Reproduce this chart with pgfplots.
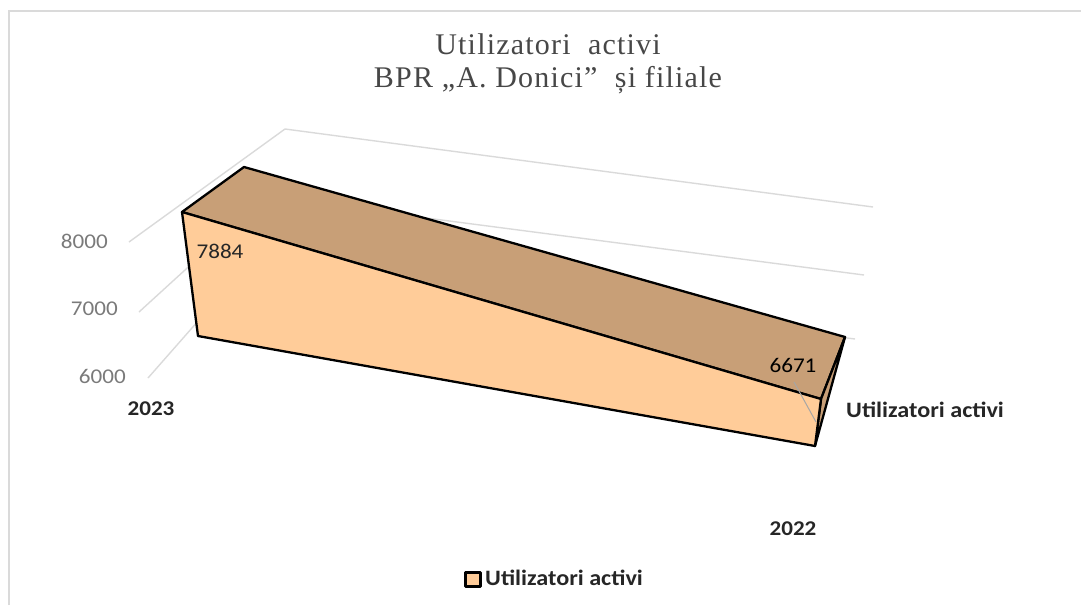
\documentclass[border=0pt]{standalone}
\usepackage{pgfplots}
\pgfplotsset{compat=1.18}
\usepackage{fontspec}
\setmainfont{Carlito}
\newfontfamily\lab[FakeStretch=1.1]{Carlito}
\newfontfamily\titlefont[LetterSpace=4]{Liberation Serif}
\definecolor{front}{HTML}{FFCC99}
\definecolor{topf}{HTML}{C89F77}
\definecolor{gridc}{HTML}{DADADA}
\definecolor{tickc}{HTML}{7A7A7A}
\definecolor{textc}{HTML}{262626}
\begin{document}
\begin{tikzpicture}[x=1pt,y=1pt]
\begin{axis}[
  scale only axis, width=1081pt, height=605pt,
  xmin=0, xmax=1081, ymin=0, ymax=605, y dir=reverse,
  axis lines=none, clip=true,
  legend style={at={(axis cs:464,579)}, anchor=west, draw=none, fill=none,
    font=\fontsize{22}{26}\selectfont\lab\bfseries\color{textc}, inner sep=0pt, row sep=0pt},
  legend cell align=left,
  legend image code/.code={\draw[draw=black, line width=3pt, fill=front] (1.5pt,-7pt) rectangle (16.5pt,7pt);
     \path[draw=none, fill=none] (0pt,0pt) -- (19pt,0pt);},
]
% page extent
\addplot[draw=none, forget plot] coordinates {(0,0) (1081,605)};
% frame
\addplot[gridc, line width=1.8pt, forget plot] coordinates {(9,605) (9,11) (1081,11)};
% gridlines
\addplot[gridc, line width=1.4pt, forget plot] coordinates {(129,242) (285,129) (873,207)};
\addplot[gridc, line width=1.4pt, forget plot] coordinates {(139,312) (265,197) (864,275)};
\addplot[gridc, line width=1.4pt, forget plot] coordinates {(148,378) (250,262) (855,339)};
% top face
\addplot[fill=topf, draw=black, line width=2.3pt, line join=round, forget plot]
  coordinates {(182,212) (244,167) (845,337) (821,399)} -- cycle;
% side face
\addplot[fill=topf, draw=black, line width=2.3pt, line join=round, forget plot]
  coordinates {(821,399) (845,337) (815,446)} -- cycle;
% front face
\addplot[fill=front, draw=black, line width=2.3pt, line join=round]
  coordinates {(182,212) (821,399) (815,446) (198,336)} -- cycle;
\addlegendentry{Utilizatori activi}
% leader line
\addplot[color=gray!70, line width=1pt, forget plot] coordinates {(794,382) (816,422)};
% labels
\node[font=\fontsize{30}{33}\selectfont\titlefont, text=textc!85!white, align=center, anchor=center] at (axis cs:548,64)
  {Utilizatori\ \ activi\\BPR „A. Donici”\ \ și filiale};
\node[font=\fontsize{21}{24}\selectfont\lab, text=tickc, anchor=east, inner xsep=0pt] at (axis cs:108,241) {8000};
\node[font=\fontsize{21}{24}\selectfont\lab, text=tickc, anchor=east, inner xsep=0pt] at (axis cs:118,309) {7000};
\node[font=\fontsize{21}{24}\selectfont\lab, text=tickc, anchor=east, inner xsep=0pt] at (axis cs:126,376) {6000};
\node[font=\fontsize{21}{24}\selectfont\lab\bfseries, text=textc, anchor=center] at (axis cs:151,409) {2023};
\node[font=\fontsize{21}{24}\selectfont\lab\bfseries, text=textc, anchor=center] at (axis cs:793,529) {2022};
\node[font=\fontsize{22}{26}\selectfont\lab\bfseries, text=textc, anchor=west, inner xsep=0pt] at (axis cs:846,410) {Utilizatori activi};
\node[font=\fontsize{21}{24}\selectfont\lab, text=textc, anchor=center] at (axis cs:220,251) {7884};
\node[font=\fontsize{21}{24}\selectfont\lab, text=black, anchor=center] at (axis cs:793,365) {6671};
\end{axis}
\end{tikzpicture}
\end{document}
